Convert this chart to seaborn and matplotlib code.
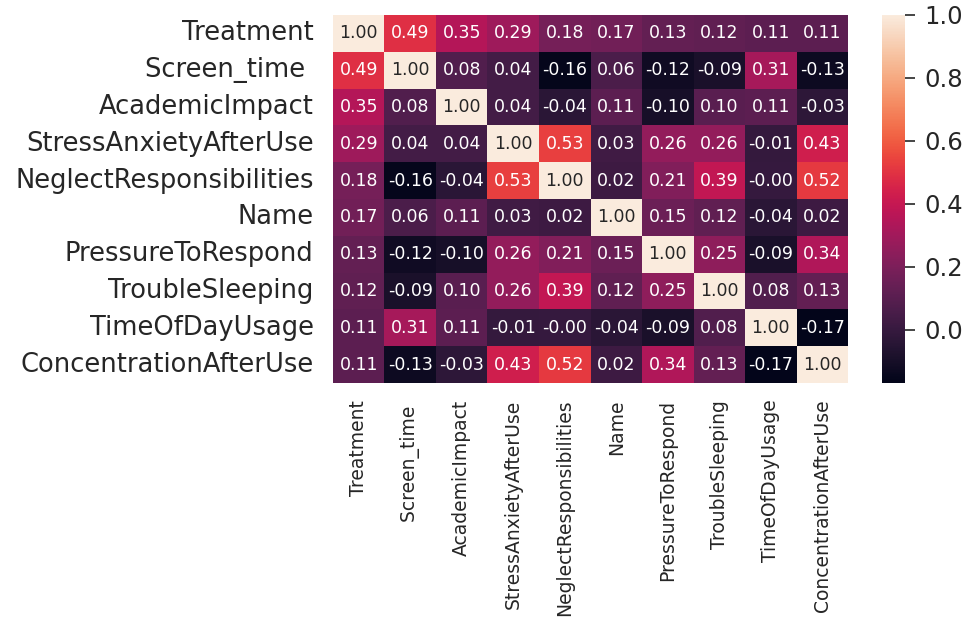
import numpy as np
import pandas as pd
import matplotlib
matplotlib.use("Agg")
import matplotlib.pyplot as plt
import seaborn as sns

features = ["Treatment", "Screen_time ", "AcademicImpact", "StressAnxietyAfterUse",
            "NeglectResponsibilities", "Name", "PressureToRespond", "TroubleSleeping",
            "TimeOfDayUsage", "ConcentrationAfterUse"]

treatment       = [1.00, 0.49, 0.35, 0.29, 0.18, 0.17, 0.13, 0.12, 0.11, 0.11]
screen_time     = [0.49, 1.00, 0.08, 0.04, -0.16, 0.06, -0.12, -0.09, 0.31, -0.13]
academic        = [0.35, 0.08, 1.00, 0.04, -0.04, 0.11, -0.10, 0.10, 0.11, -0.03]
stress_anxiety  = [0.29, 0.04, 0.04, 1.00, 0.53, 0.03, 0.26, 0.26, -0.01, 0.43]
neglect_resp    = [0.18, -0.16, -0.04, 0.53, 1.00, 0.02, 0.21, 0.39, -0.004, 0.52]
name            = [0.17, 0.06, 0.11, 0.03, 0.02, 1.00, 0.15, 0.12, -0.04, 0.02]
pressure        = [0.13, -0.12, -0.10, 0.26, 0.21, 0.15, 1.00, 0.25, -0.09, 0.34]
trouble_sleep   = [0.12, -0.09, 0.10, 0.26, 0.39, 0.12, 0.25, 1.00, 0.08, 0.13]
time_of_day     = [0.11, 0.31, 0.11, -0.01, -0.004, -0.04, -0.09, 0.08, 1.00, -0.17]
concentration   = [0.11, -0.13, -0.03, 0.43, 0.52, 0.02, 0.34, 0.13, -0.17, 1.00]

corr = pd.DataFrame([treatment, screen_time, academic, stress_anxiety, neglect_resp,
                     name, pressure, trouble_sleep, time_of_day, concentration],
                    index=features, columns=features)

sns.set_theme(style="white")
plt.rcParams["font.family"] = ["DejaVu Sans"]
text_color = "#262626"

W, H = 970, 619
fig = plt.figure(figsize=(W / 100, H / 100), dpi=100)
ax = fig.add_axes([333 / W, (H - 383) / H, 515 / W, 368 / H])
cax = fig.add_axes([882 / W, (H - 383) / H, 23 / W, 368 / H])

sns.heatmap(corr, annot=True, fmt=".2f", cmap="rocket", ax=ax, cbar_ax=cax,
            annot_kws={"fontsize": 12.5})

ax.tick_params(axis="y", length=0, pad=14, labelsize=18.5, labelcolor=text_color)
ax.tick_params(axis="x", length=0, pad=12, labelsize=13.5, labelcolor=text_color)
plt.setp(ax.get_yticklabels(), rotation=0)
plt.setp(ax.get_xticklabels(), rotation=90)
ax.set_xlabel("")
ax.set_ylabel("")

cax.yaxis.set_ticks([0.0, 0.2, 0.4, 0.6, 0.8, 1.0])
cax.tick_params(axis="y", length=7, width=1.2, color=text_color, pad=7,
                labelsize=17.5, labelcolor=text_color, right=True)
for s in cax.spines.values():
    s.set_visible(False)

fig.savefig("out.png", dpi=100, facecolor="white")
